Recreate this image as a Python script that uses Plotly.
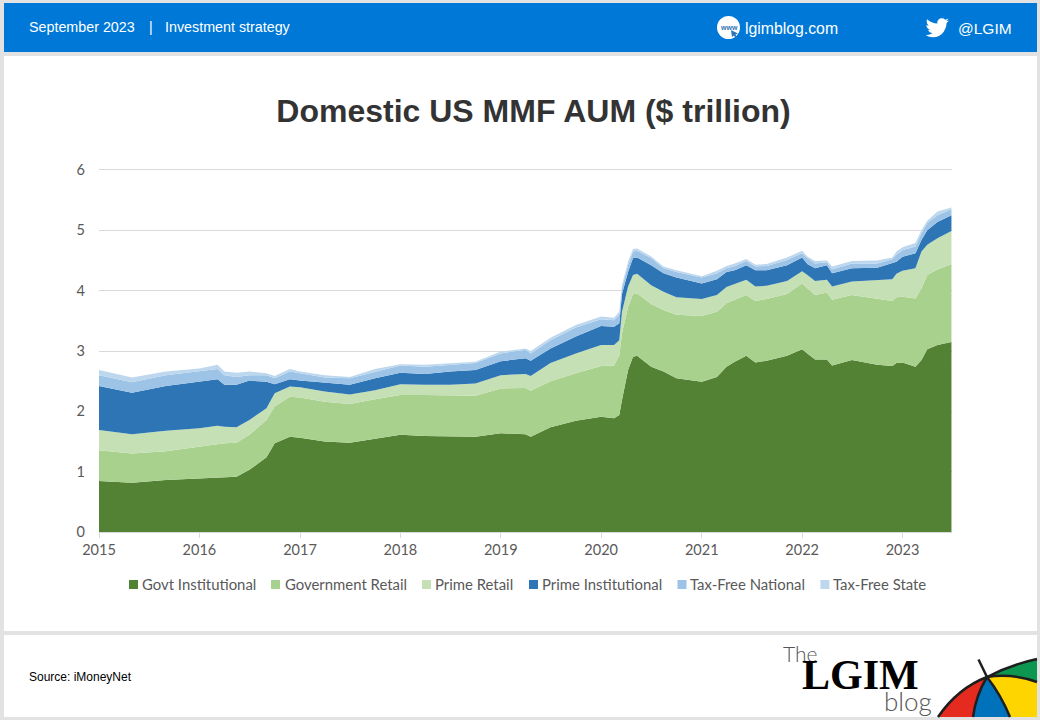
import plotly.graph_objects as go

dates = ["2015-01-01","2015-05-01","2015-09-01","2016-01-01","2016-03-07","2016-04-01","2016-05-15","2016-07-01","2016-09-01","2016-10-01","2016-11-25",
         "2017-01-01","2017-04-01","2017-07-01","2017-10-01","2018-01-01","2018-04-01","2018-07-01","2018-10-01","2019-01-01","2019-04-01","2019-04-20",
         "2019-07-01","2019-10-01","2020-01-01","2020-02-17","2020-03-07","2020-03-17","2020-04-08","2020-04-26","2020-05-11","2020-07-01","2020-08-15","2020-10-01",
         "2021-01-01","2021-02-25","2021-04-01","2021-05-01","2021-06-12","2021-07-15","2021-08-25","2021-11-07","2022-01-01","2022-01-20","2022-02-17","2022-04-01","2022-04-20","2022-07-01",
         "2022-10-01","2022-11-25","2022-12-10","2023-01-01","2023-02-17","2023-03-11","2023-04-01","2023-05-08","2023-06-28"]

govt_institutional = [.845,.817,.862,.89,.91,.906,.917,1.03,1.24,1.47,1.58,
                      1.563,1.50,1.48,1.547,1.61,1.59,1.59,1.58,1.635,1.62,1.58,
                      1.735,1.845,1.91,1.885,1.94,2.19,2.685,2.905,2.92,2.74,2.66,2.55,
                      2.49,2.57,2.74,2.82,2.92,2.81,2.84,2.92,3.03,2.96,2.86,2.86,2.76,2.85,
                      2.77,2.75,2.80,2.81,2.74,2.85,3.03,3.10,3.15]
government_retail = [.509,.483,.478,.524,.55,.564,.563,.58,.616,.61,.66,
                     .667,.66,.64,.653,.66,.68,.67,.68,.745,.765,.76,
                     .765,.785,.84,.875,.99,1.11,1.045,1.035,1.035,1.04,1.02,1.05,
                     1.09,1.08,1.05,1.03,1.01,1.02,1.02,1.025,1.09,1.08,1.07,1.11,1.09,1.08,
                     1.09,1.08,1.09,1.09,1.13,1.19,1.23,1.25,1.29]
prime_retail = [.336,.32,.34,.306,.30,.275,.255,.246,.194,.22,.17,
                .17,.17,.16,.15,.18,.17,.18,.20,.22,.235,.245,
                .30,.33,.35,.34,.25,.35,.34,.32,.325,.31,.30,.29,
                .28,.28,.27,.26,.25,.24,.22,.215,.20,.22,.23,.21,.22,.22,
                .32,.36,.39,.43,.50,.61,.50,.52,.55]
prime_institutional = [.73,.69,.74,.77,.77,.695,.705,.654,.44,.15,.12,
                       .11,.14,.16,.20,.19,.18,.22,.225,.23,.26,.255,
                       .24,.28,.315,.30,.28,.30,.24,.28,.27,.33,.31,.33,
                       .26,.26,.25,.23,.24,.27,.26,.26,.23,.18,.21,.24,.22,.22,
                       .20,.26,.20,.23,.25,.19,.24,.27,.26]
tax_free_national = [.18,.17,.18,.17,.17,.16,.13,.09,.11,.10,.13,
                     .12,.09,.11,.11,.12,.12,.11,.115,.13,.14,.12,
                     .14,.15,.11,.11,.14,.10,.11,.11,.11,.12,.08,.09,
                     .10,.10,.06,.07,.07,.06,.07,.09,.07,.10,.08,.05,.06,.08,
                     .07,.07,.12,.11,.11,.11,.12,.11,.10]
tax_free_state = [.085,.08,.06,.05,.07,.06,.07,.06,.03,.035,.04,
                  .03,.04,.02,.04,.02,.03,.03,.02,.03,.02,.04,
                  .04,.04,.045,.04,.05,.05,.06,.04,.04,.025,.03,.03,
                  .02,.04,.04,.04,.035,.03,.03,.04,.04,.025,.04,.03,.05,.04,
                  .05,.03,.05,.05,.06,.05,.04,.06,.03]

series_names = ["Govt Institutional","Government Retail","Prime Retail","Prime Institutional","Tax-Free National","Tax-Free State"]
series_values = [govt_institutional,government_retail,prime_retail,prime_institutional,tax_free_national,tax_free_state]
series_colors = ["#548235","#A9D18E","#C5E0B4","#2E75B6","#9DC3E6","#BDD7EE"]
legend_swatch_x = [129,271,422,529,677.5,820.4]
legend_text_x = [142,285,434.5,541.5,690,833]
year_ticks = ["2015-01-01","2016-01-01","2017-01-01","2018-01-01","2019-01-01","2020-01-01","2021-01-01","2022-01-01","2023-01-01"]
year_labels = ["2015","2016","2017","2018","2019","2020","2021","2022","2023"]
y_top = 6.033

PL, PR, PT, PB = 99, 952, 168, 532
def X(px): return (px - PL) / (PR - PL)
def Y(py): return (PB - py) / (PB - PT)

def path(cmds):
    out = []
    for c in cmds:
        if c[0] == "Z":
            out.append("Z")
        else:
            pts = c[1:]
            s = " ".join(f"{X(pts[i]):.5f},{Y(pts[i+1]):.5f}" for i in range(0, len(pts), 2))
            out.append(c[0] + s)
    return " ".join(out)

shapes = []
def rect(x0, y0, x1, y1, color):
    shapes.append(dict(type="rect", xref="paper", yref="paper", x0=X(x0), x1=X(x1), y0=Y(y1), y1=Y(y0),
                       fillcolor=color, line=dict(width=0), layer="below"))
def shp(cmds, fill=None, line=None, width=0):
    d = dict(type="path", xref="paper", yref="paper", path=path(cmds), layer="above",
             line=dict(width=width, color=line or "rgba(0,0,0,0)"))
    d["fillcolor"] = fill or "rgba(0,0,0,0)"
    shapes.append(d)

annotations = []
def text(px, py, s, size, color, font="Liberation Sans", anchor="left"):
    annotations.append(dict(xref="paper", yref="paper", x=X(px - 2 if anchor == "left" else px), y=Y(py), text=s, showarrow=False, xanchor=anchor,
                            yanchor="middle", font=dict(family=font, size=size, color=color)))

rect(4, 3, 1037, 52, "#0078D7")
rect(4, 56, 1037, 631, "#FFFFFF")
rect(4, 635, 1037, 717, "#FFFFFF")

# header
text(29, 27, "September 2023", 14.3, "white")
text(149, 27, "|", 14, "white")
text(165, 27, "Investment strategy", 14.3, "white")
text(745, 28, "lgimblog.com", 15.8, "white")
text(958, 28, "@LGIM", 15.5, "white")
shapes.append(dict(type="circle", xref="paper", yref="paper", x0=X(717), x1=X(740), y0=Y(39), y1=Y(16),
                   fillcolor="white", line=dict(width=0), layer="above"))
text(728.5, 27, "<b>www</b>", 7, "#2E75B6", anchor="center")
shp([("M",731,30),("L",738,33.5),("L",735.5,34.5),("L",737,37.5),("L",735.5,38),("L",734,35.5),("L",732,37),("Z",)], fill="#2E75B6")

# twitter bird, from a 24x24 grid
def B(x, y): return (925.5 + x * 23.5 / 24, 16 + y * 23.5 / 24)
bird = [("M",24,4.6),("Q",22.6,5.2,21.1,5.35),("Q",22.8,4.4,23.3,2.6),("Q",21.7,3.5,20.2,3.8),("Q",18.8,2.3,16.6,2.3),
        ("Q",12.5,2.6,12,6.5),("Q",12,7.2,12.2,7.6),("Q",5.9,7.3,1.6,3.2),("Q",0.3,6.9,3.2,9.7),("Q",2,9.7,0.9,9.1),
        ("Q",1,12.9,4.9,14),("Q",3.8,14.3,2.7,14),("Q",3.8,17.2,7.3,17.4),("Q",4.2,19.8,0,19.4),("Q",3.5,21.7,7.6,21.7),
        ("Q",15,21.6,18.8,15.8),("Q",21.6,11.5,21.6,7.1),("Q",23,6.1,24,4.6),("Z",)]
cm = []
for c in bird:
    if c[0] == "Z":
        cm.append(c)
    else:
        p = []
        for i in range(1, len(c), 2):
            p += list(B(c[i], c[i+1]))
        cm.append((c[0], *p))
shp(cm, fill="white")

# footer
text(29, 677, "Source: iMoneyNet", 12, "#000000")
text(783, 653, "The", 21, "#555555", font="Lato Light, Lato")
text(802, 675, "<b>LGIM</b>", 42, "#000000", font="Liberation Serif")
text(884, 701, "blog", 26, "#555555", font="Lato Light, Lato")

# umbrella
shp([("M",987,677),("Q",958,688,938,717),("L",973,717),("Q",976,695,987,677),("Z",)], fill="#E52A20")
shp([("M",987,677),("Q",976,695,973,717),("L",1010,717),("Q",1001,695,987,677),("Z",)], fill="#0072BC")
shp([("M",987,677),("Q",1001,695,1010,717),("L",1037,717),("L",1037,682),("Q",1012,673,987,677),("Z",)], fill="#FFD500")
shp([("M",987,677),("Q",1010,665,1037,659),("L",1037,682),("Q",1012,673,987,677),("Z",)], fill="#0D9650")
for c in ([("M",938,717),("Q",958,688,987,677)], [("M",987,677),("Q",1010,665,1037,659)],
          [("M",973,717),("Q",976,695,987,677)], [("M",1010,717),("Q",1001,695,987,677)],
          [("M",987,677),("Q",1012,673,1037,682)], [("M",978.5,659.5),("L",987,677)]):
    shp(c, line="#1E1E1E", width=2.5)

# legend
for sx, tx, n, c in zip(legend_swatch_x, legend_text_x, series_names, series_colors):
    shapes.append(dict(type="rect", xref="paper", yref="paper", x0=X(sx), x1=X(sx + 9), y0=Y(589), y1=Y(580),
                       fillcolor=c, line=dict(width=0), layer="above"))
    text(tx, 584, n, 14.9, "#595959", font="Lato")

fig = go.Figure()
for n, v, c in zip(series_names, series_values, series_colors):
    fig.add_trace(go.Scatter(x=dates, y=v, name=n, mode="lines", stackgroup="one", line=dict(width=0, color=c),
                             fillcolor=c, showlegend=False, hovertemplate="%{x}<br>%{y}<extra>" + n + "</extra>"))

fig.update_layout(
    width=1040, height=720, margin=dict(l=PL, r=1040 - PR, t=PT, b=720 - PB, autoexpand=False),
    paper_bgcolor="#E2E2E2", plot_bgcolor="rgba(0,0,0,0)", showlegend=False,
    title=dict(text="<b>Domestic US MMF AUM ($ trillion)</b>", x=533.5 / 1040, xanchor="center", y=1 - 111 / 720, yanchor="middle",
               font=dict(family="Liberation Sans", size=32, color="#333333")),
    xaxis=dict(type="date", range=["2015-01-01", "2023-06-30"], tickmode="array", tickvals=year_ticks, ticktext=year_labels,
               ticks="outside", ticklen=5, tickcolor="#D9D9D9", showline=True, linecolor="#D9D9D9", showgrid=False, zeroline=False,
               tickfont=dict(family="Lato", size=14.5, color="#595959")),
    yaxis=dict(range=[0, y_top], tickvals=[0, 1, 2, 3, 4, 5, 6], gridcolor="#D9D9D9", zeroline=False, ticks="", showline=False,
               tickfont=dict(family="Lato", size=14.5, color="#595959"), ticklabelstandoff=13),
    shapes=shapes, annotations=annotations,
)

fig.write_html("out.html", config=dict(displayModeBar=False), post_script="document.body.style.margin='0';document.body.style.overflow='hidden';")
